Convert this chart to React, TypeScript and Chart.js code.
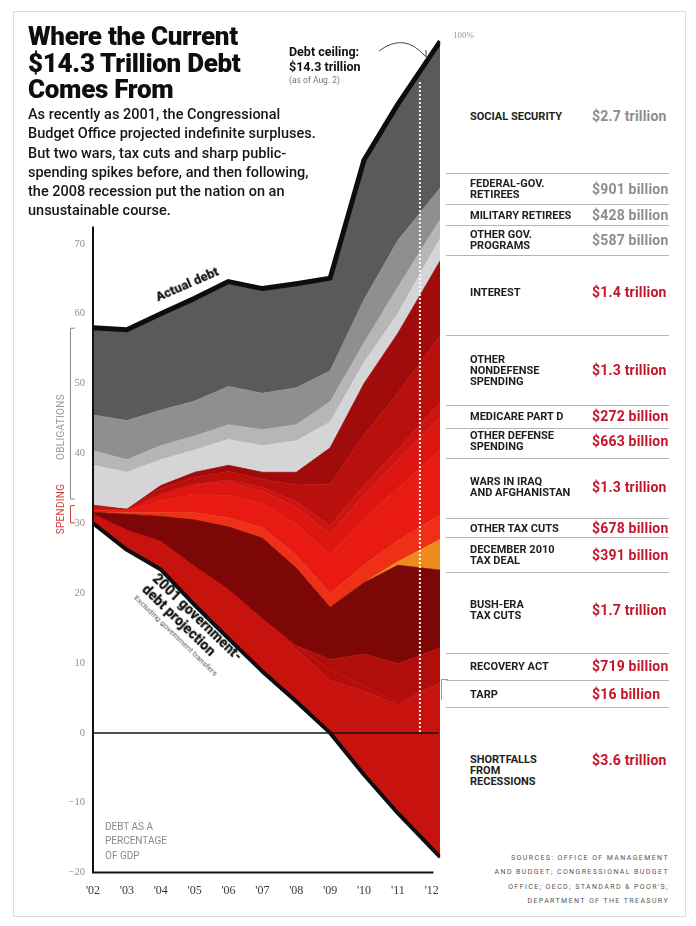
import React, { useEffect, useRef } from "react";
import { Chart, registerables } from "chart.js";

Chart.register(...registerables);

// ---------- DATA (debt as % of GDP) ----------
const YEARS = [2002, 2003, 2004, 2005, 2006, 2007, 2008, 2009, 2010, 2011, 2012.25];
const X_TICK_LABELS = ["'02", "'03", "'04", "'05", "'06", "'07", "'08", "'09", "'10", "'11", "'12"];
const Y_TICK_MAX_SHOWN = 70;
const DEBT_CEILING_DATE = 2011.65;

// 2001 CBO projection (baseline)
const PROJECTION_2001 = [30, 26.2, 23.4, 18.3, 13.5, 8.8, 4.5, 0, -6, -11.5, -17.8];

// spending layers, bottom -> top (percentage points of GDP)
const SHORTFALLS = [1.3, 2.8, 4, 5.5, 7, 7.5, 7.5, 7.5, 12, 15.5, 24.9];
const TARP = [0, 0, 0, 0, 0, 0, 0.5, 1.5, 0.8, 0.4, 0.1];
const RECOVERY_ACT = [0, 0, 0, 0, 0, 0, 0, 1.5, 4.5, 5.5, 5];
const BUSH_TAX_CUTS = [0.3, 2.3, 3.6, 6.7, 9.0, 11.6, 11.1, 7.5, 10.2, 14.1, 11.1];
const DEC_2010_TAX_DEAL = [0, 0, 0, 0, 0, 0, 0, 0, 0, 0.5, 4.4];
const OTHER_TAX_CUTS = [0, 0.3, 0.6, 1, 1.3, 1.5, 1.8, 2, 2.5, 3, 3.5];
const WARS = [0.3, 0.2, 1.6, 2.6, 3.2, 3.4, 4.5, 5.5, 6.5, 7.5, 9.3];
const OTHER_DEFENSE = [0.2, 0.1, 1.0, 1.5, 1.8, 1.8, 2.4, 3, 3.5, 4, 4.8];
const MEDICARE_D = [0, 0, 0, 0, 0.4, 0.5, 0.8, 1.1, 1.4, 1.6, 2];
const OTHER_NONDEFENSE = [0.3, 0.1, 0.8, 1.0, 1.2, 1.2, 2.4, 6, 7.2, 8, 9.6];
const INTEREST = [0.2, 0, 0.4, 0.7, 0.9, 1.0, 1.8, 5.2, 7.4, 8.6, 10.7];
// obligation layers
const OTHER_GOV = [5.7, 5.3, 3.7, 3.2, 3.7, 3.8, 4.5, 3.7, 3.0, 2.8, 3.2];
const MILITARY_RETIREES = [2.1, 1.8, 2.0, 2.0, 2.1, 2.3, 2.3, 2.9, 2.8, 3.8, 2.7];
const FED_RETIREES = [5.1, 5.6, 5.1, 5.0, 5.5, 5.2, 5.3, 4.4, 6.2, 6.7, 4.5];
const SOCIAL_SECURITY = [12.5, 13, 13.8, 14.7, 15, 15, 14.9, 13.3, 20, 19.5, 21];

// legend texts (top -> bottom)
const LEGEND_LABELS = [
  ["SOCIAL SECURITY"],
  ["FEDERAL-GOV.", "RETIREES"],
  ["MILITARY RETIREES"],
  ["OTHER GOV.", "PROGRAMS"],
  ["INTEREST"],
  ["OTHER", "NONDEFENSE", "SPENDING"],
  ["MEDICARE PART D"],
  ["OTHER DEFENSE", "SPENDING"],
  ["WARS IN IRAQ", "AND AFGHANISTAN"],
  ["OTHER TAX CUTS"],
  ["DECEMBER 2010", "TAX DEAL"],
  ["BUSH-ERA", "TAX CUTS"],
  ["RECOVERY ACT"],
  ["TARP"],
  ["SHORTFALLS", "FROM", "RECESSIONS"],
];
const LEGEND_AMOUNTS = [
  "$2.7 trillion", "$901 billion", "$428 billion", "$587 billion",
  "$1.4 trillion", "$1.3 trillion", "$272 billion", "$663 billion",
  "$1.3 trillion", "$678 billion", "$391 billion", "$1.7 trillion",
  "$719 billion", "$16 billion", "$3.6 trillion",
];
const LEGEND_IS_OBLIGATION = [true, true, true, true, false, false, false, false, false, false, false, false, false, false, false];

// ---------- layout (not data) ----------
const LEGEND_ROW_Y = [116, 189, 215, 240, 292, 370, 416, 441, 487, 528, 555, 610, 666, 694, 770];
const LEGEND_AMOUNT_Y = [116, 189, 215, 240, 292, 370, 416, 441, 487, 528, 555, 610, 666, 694, 760];
const LEGEND_RULE_Y = [173, 204, 225, 255, 335, 405, 428, 458, 518, 537, 572, 653, 680, 707];

const LAYERS = [
  { name: "Shortfalls from recessions", values: SHORTFALLS, color: "#c8120d" },
  { name: "TARP", values: TARP, color: "#b50d0a" },
  { name: "Recovery act", values: RECOVERY_ACT, color: "#b10e0b" },
  { name: "Bush-era tax cuts", values: BUSH_TAX_CUTS, color: "#7d0706" },
  { name: "December 2010 tax deal", values: DEC_2010_TAX_DEAL, color: "#ef8a1c" },
  { name: "Other tax cuts", values: OTHER_TAX_CUTS, color: "#ee3016" },
  { name: "Wars in Iraq and Afghanistan", values: WARS, color: "#e81a12" },
  { name: "Other defense spending", values: OTHER_DEFENSE, color: "#dc1712" },
  { name: "Medicare Part D", values: MEDICARE_D, color: "#cc1410" },
  { name: "Other nondefense spending", values: OTHER_NONDEFENSE, color: "#b9100d" },
  { name: "Interest", values: INTEREST, color: "#a00c0b" },
  { name: "Other gov. programs", values: OTHER_GOV, color: "#d5d5d8" },
  { name: "Military retirees", values: MILITARY_RETIREES, color: "#b6b6b8" },
  { name: "Federal-gov. retirees", values: FED_RETIREES, color: "#8f8f91" },
  { name: "Social Security", values: SOCIAL_SECURITY, color: "#5a5a5c" },
];

function cumulativeLayers(): number[][] {
  const out: number[][] = [];
  let run = PROJECTION_2001.slice();
  for (const l of LAYERS) {
    run = run.map((v, i) => v + l.values[i]);
    out.push(run);
  }
  return out;
}

function interp(xs: number[], ys: number[], x: number): number {
  for (let i = 0; i < xs.length - 1; i++) {
    if (x >= xs[i] && x <= xs[i + 1]) {
      const t = (x - xs[i]) / (xs[i + 1] - xs[i]);
      return ys[i] + t * (ys[i + 1] - ys[i]);
    }
  }
  return ys[ys.length - 1];
}

export default function App() {
  const ref = useRef<HTMLCanvasElement>(null);

  useEffect(() => {
    if (!ref.current) return;
    const cum = cumulativeLayers();
    const total = cum[cum.length - 1];
    const redTop = cum[10];

    const datasets: any[] = [
      {
        label: "2001 government-debt projection",
        data: YEARS.map((x, i) => ({ x, y: PROJECTION_2001[i] })),
        borderColor: "#0d0d0d",
        borderWidth: 4,
        fill: false,
        pointRadius: 0,
        tension: 0,
        borderJoinStyle: "round",
      },
    ];
    LAYERS.forEach((l, k) => {
      const isTop = k === LAYERS.length - 1;
      datasets.push({
        label: l.name,
        data: YEARS.map((x, i) => ({ x, y: cum[k][i] })),
        backgroundColor: l.color,
        borderColor: isTop ? "#0d0d0d" : l.color,
        borderWidth: isTop ? 5 : 0.8,
        borderJoinStyle: "round",
        fill: "-1",
        pointRadius: 0,
        tension: 0,
      });
    });

    const overlay = {
      id: "overlay",
      afterDatasetsDraw(chart: any) {
        const { ctx, chartArea, scales } = chart;
        const x = scales.x;
        const y = scales.y;
        ctx.save();
        // zero line
        ctx.strokeStyle = "#151515";
        ctx.lineWidth = 1.5;
        ctx.beginPath();
        ctx.moveTo(chartArea.left, y.getPixelForValue(0));
        ctx.lineTo(x.getPixelForValue(2012.2), y.getPixelForValue(0));
        ctx.stroke();
        // debt ceiling dotted line
        const cx = x.getPixelForValue(DEBT_CEILING_DATE);
        const topV = interp(YEARS, total, DEBT_CEILING_DATE) - 1.5;
        ctx.strokeStyle = "rgba(255,255,255,0.95)";
        ctx.lineWidth = 2;
        ctx.setLineDash([2, 2]);
        ctx.beginPath();
        ctx.moveTo(cx, y.getPixelForValue(topV));
        ctx.lineTo(cx, y.getPixelForValue(0));
        ctx.stroke();
        ctx.setLineDash([]);
        // axes
        ctx.strokeStyle = "#111";
        ctx.lineWidth = 2;
        ctx.beginPath();
        ctx.moveTo(chartArea.left, y.getPixelForValue(72.5));
        ctx.lineTo(chartArea.left, y.getPixelForValue(-20));
        ctx.lineTo(x.getPixelForValue(2012.05), y.getPixelForValue(-20));
        ctx.stroke();
        // obligations / spending brackets (2002 column)
        const bx = chartArea.left - 23;
        const bracket = (v1: number, v2: number, color: string) => {
          const y1 = y.getPixelForValue(v1);
          const y2 = y.getPixelForValue(v2);
          ctx.strokeStyle = color;
          ctx.lineWidth = 1;
          ctx.beginPath();
          ctx.moveTo(bx + 5, y1 + 0.5);
          ctx.lineTo(bx + 0.5, y1 + 0.5);
          ctx.lineTo(bx + 0.5, y2 - 0.5);
          ctx.lineTo(bx + 5, y2 - 0.5);
          ctx.stroke();
        };
        bracket(total[0], redTop[0] + 0.8, "#8a8a8a");
        bracket(redTop[0], PROJECTION_2001[0], "#d23a3a");
        ctx.restore();
      },
    };

    const chart = new Chart(ref.current, {
      type: "line",
      data: { datasets },
      options: {
        animation: false,
        responsive: false,
        events: [],
        layout: { padding: { top: 9, right: 7, left: 0, bottom: 0 } },
        plugins: { legend: { display: false }, tooltip: { enabled: false } },
        scales: {
          x: {
            type: "linear",
            min: 2002,
            max: 2012.25,
            grid: { display: false, drawTicks: false },
            border: { display: false },
            ticks: {
              stepSize: 1,
              includeBounds: false,
              autoSkip: false,
              maxRotation: 0,
              padding: 11,
              color: "#3a3a3a",
              font: { family: "'Liberation Serif', 'DejaVu Serif', serif", size: 12 },
              callback: (v: any) => (Number.isInteger(v) ? X_TICK_LABELS[v - 2002] : ""),
            },
            afterFit: (s: any) => {
              s.height = 37.4;
            },
          },
          y: {
            type: "linear",
            min: -20,
            max: 100,
            grid: { display: false, drawTicks: false },
            border: { display: false },
            ticks: {
              stepSize: 10,
              includeBounds: false,
              padding: 8,
              color: "#8e8e8e",
              font: { family: "'Liberation Serif', 'DejaVu Serif', serif", size: 10.5 },
              callback: (v: any) =>
                v > Y_TICK_MAX_SHOWN ? "" : v < 0 ? "\u2212" + Math.abs(v) : String(v),
            },
            afterFit: (s: any) => {
              s.width = 53;
            },
          },
        },
      },
      plugins: [overlay],
    } as any);
    return () => chart.destroy();
  }, []);

  const abs = (o: any) => ({ position: "absolute", ...o } as React.CSSProperties);

  return (
    <div
      style={abs({
        left: 0,
        top: 0,
        width: 696,
        height: 926,
        background: "#fff",
        overflow: "hidden",
        fontFamily: "Roboto, 'Noto Sans', sans-serif",
        color: "#111",
      })}
    >
      <div style={abs({ left: 13, top: 11, width: 671, height: 904, border: "1px solid #dcdcdc" })} />
      <canvas ref={ref} width={410} height={890} style={abs({ left: 40, top: 20, width: 410, height: 890 })} />

      {/* Title */}
      <div
        style={abs({
          left: 28,
          top: 23,
          fontSize: 26,
          fontWeight: 900,
          lineHeight: "26.5px",
          letterSpacing: "-0.3px",
          whiteSpace: "nowrap",
          color: "#0e0e0e",
        })}
      >
        Where the Current
        <br />
        $14.3 Trillion Debt
        <br />
        Comes From
      </div>
      <div
        style={abs({
          left: 28,
          top: 105,
          fontSize: 14.5,
          fontWeight: 500,
          lineHeight: "19.3px",
          letterSpacing: "0px",
          whiteSpace: "nowrap",
          color: "#161616",
        })}
      >
        As recently as 2001, the Congressional
        <br />
        Budget Office projected indefinite surpluses.
        <br />
        But two wars, tax cuts and sharp public-
        <br />
        spending spikes before, and then following,
        <br />
        the 2008 recession put the nation on an
        <br />
        unsustainable course.
      </div>

      {/* Debt ceiling note */}
      <div style={abs({ left: 289, top: 45, whiteSpace: "nowrap" })}>
        <div style={{ fontSize: 12.5, fontWeight: 700, lineHeight: "14.5px" }}>
          Debt ceiling:
          <br />
          $14.3 trillion
        </div>
        <div style={{ fontSize: 8.5, color: "#777", marginTop: 1 }}>(as of Aug. 2)</div>
      </div>
      <svg style={abs({ left: 370, top: 30, width: 70, height: 40 })} viewBox="0 0 70 40">
        <path d="M 9 21 Q 34 2 55 26" fill="none" stroke="#444" strokeWidth="1" />
        <path d="M 51 22 L 56 27 L 56 20" fill="none" stroke="#444" strokeWidth="1" />
      </svg>
      <div style={abs({ left: 453, top: 30, fontSize: 9, color: "#999", fontFamily: "'Liberation Serif', serif" })}>
        100%
      </div>

      {/* Chart annotations */}
      <div
        style={abs({
          left: 187,
          top: 284,
          transform: "translate(-50%,-50%) rotate(-23.5deg)",
          fontSize: 13,
          fontWeight: 900,
          whiteSpace: "nowrap",
        })}
      >
        Actual debt
      </div>
      <div
        style={abs({
          left: 160,
          top: 571,
          transformOrigin: "0 0",
          transform: "rotate(44deg)",
          whiteSpace: "nowrap",
        })}
      >
        <div style={{ fontSize: 14, fontWeight: 900, lineHeight: "15px" }}>2001 government-</div>
        <div style={{ fontSize: 14, fontWeight: 900, lineHeight: "15px" }}>debt projection</div>
        <div style={{ fontSize: 8, color: "#555", lineHeight: "11px" }}>Excluding government transfers</div>
      </div>
      <div
        style={abs({
          left: 60,
          top: 427,
          transform: "translate(-50%,-50%) rotate(-90deg)",
          fontSize: 10,
          color: "#9a9a9a",
          letterSpacing: "0.3px",
          whiteSpace: "nowrap",
        })}
      >
        OBLIGATIONS
      </div>
      <div
        style={abs({
          left: 60,
          top: 509,
          transform: "translate(-50%,-50%) rotate(-90deg)",
          fontSize: 10,
          color: "#d43c3c",
          letterSpacing: "0.3px",
          whiteSpace: "nowrap",
        })}
      >
        SPENDING
      </div>
      <div style={abs({ left: 105, top: 819.5, fontSize: 10, lineHeight: "14.5px", color: "#8a8a8a", whiteSpace: "nowrap" })}>
        DEBT AS A
        <br />
        PERCENTAGE
        <br />
        OF GDP
      </div>

      {/* Legend column */}
      {LEGEND_RULE_Y.map((ry, i) => (
        <div key={"r" + i} style={abs({ left: 446, top: ry, width: 223, height: 0, borderTop: "1px solid #b4b4b4" })} />
      ))}
      <div style={abs({ left: 441, top: 679, width: 6, height: 20, borderLeft: "1px solid #999", borderTop: "1px solid #999" })} />
      {LEGEND_LABELS.map((lines, i) => (
        <div
          key={"l" + i}
          style={abs({
            left: 470,
            top: LEGEND_ROW_Y[i],
            transform: "translateY(-50%)",
            fontSize: 11,
            fontWeight: 700,
            lineHeight: "11px",
            color: "#1e1e1e",
            whiteSpace: "nowrap",
          })}
        >
          {lines.map((t, j) => (
            <div key={j}>{t}</div>
          ))}
        </div>
      ))}
      {LEGEND_AMOUNTS.map((t, i) => (
        <div
          key={"a" + i}
          style={abs({
            left: 592,
            top: LEGEND_AMOUNT_Y[i],
            transform: "translateY(-50%)",
            fontSize: 14,
            fontWeight: 700,
            letterSpacing: "0.2px",
            color: LEGEND_IS_OBLIGATION[i] ? "#8d8d90" : "#c3152a",
            whiteSpace: "nowrap",
          })}
        >
          {t}
        </div>
      ))}

      {/* Sources */}
      <div
        style={abs({
          right: 27,
          top: 851,
          textAlign: "right",
          fontSize: 7,
          lineHeight: "14.4px",
          letterSpacing: "1.4px",
          color: "#555",
          whiteSpace: "nowrap",
        })}
      >
        SOURCES: OFFICE OF MANAGEMENT
        <br />
        AND BUDGET; CONGRESSIONAL BUDGET
        <br />
        OFFICE; OECD; STANDARD &amp; POOR'S;
        <br />
        DEPARTMENT OF THE TREASURY
      </div>
    </div>
  );
}
